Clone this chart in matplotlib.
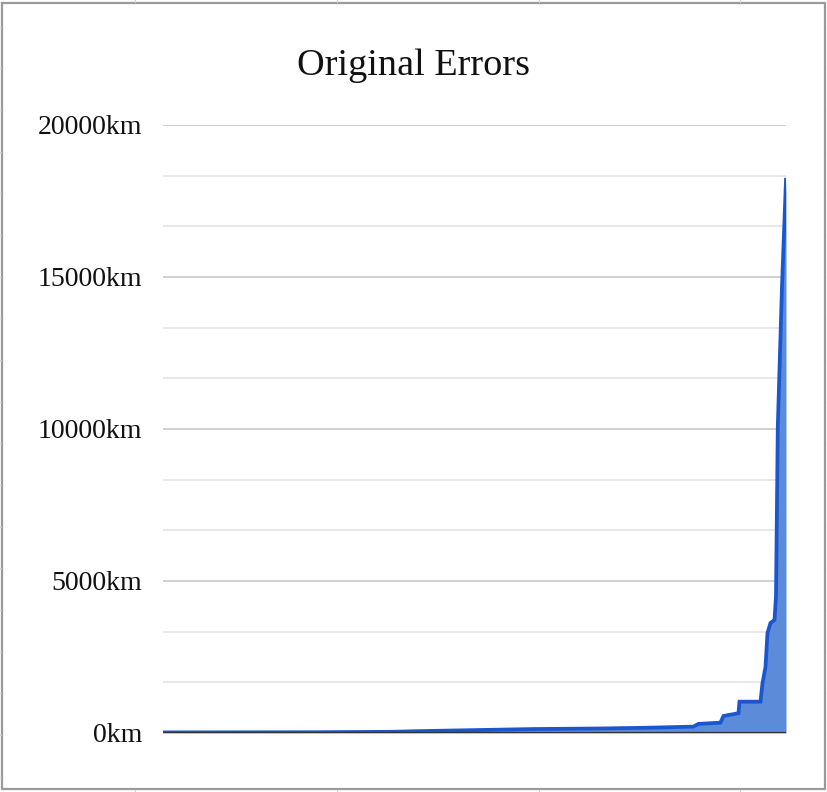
import matplotlib
matplotlib.use("Agg")
import matplotlib.pyplot as plt
from matplotlib.lines import Line2D
from matplotlib.ticker import FixedLocator, FuncFormatter

# ---- data ----
rank = [0, 150, 230, 254, 320, 370, 440, 487, 530, 535, 557, 560, 575, 576,
        597, 599, 602, 604, 607, 611, 612.5, 614.3, 618.5, 622.5]
error_km = [20, 25, 40, 60, 100, 130, 150, 175, 210, 300, 340, 560, 650, 1030,
            1030, 1640, 2170, 3290, 3620, 3720, 4500, 10080, 14700, 18200]
title = "Original Errors"
major_ticks = [0, 5000, 10000, 15000, 20000]
minor_ticks = [1666.67, 3333.33, 6666.67, 8333.33, 11666.67, 13333.33,
               16666.67, 18333.33]

W, H = 828, 792
fig = plt.figure(figsize=(W / 100, H / 100), dpi=100)
fig.patch.set_facecolor("white")

def fx(px):
    return px / W

def fy(py):
    return 1 - py / H

ax = fig.add_axes([fx(163), fy(733), fx(786) - fx(163), fy(125) - fy(733)])
ax.set_xlim(0, rank[-1])
ax.set_ylim(0, 20000)

for v in minor_ticks:
    ax.axhline(v, color="#e4e4e4", lw=1.2, zorder=1)
for v in major_ticks[1:]:
    ax.axhline(v, color="#cdcdcd", lw=1.3, zorder=1)

ax.fill_between(rank, error_km, 0, color="#5b8bd9", lw=0, zorder=2)
ax.plot(rank, error_km, color="#1a57cf", lw=2.7, solid_joinstyle="miter", zorder=3)
ax.axhline(0, color="#333333", lw=1.6, zorder=4)

for s in ax.spines.values():
    s.set_visible(False)
ax.set_xticks([])
ax.yaxis.set_major_locator(FixedLocator(major_ticks))
ax.yaxis.set_major_formatter(FuncFormatter(lambda v, p: f"{int(v)}km"))
ax.tick_params(axis="y", length=0, pad=15, labelsize=20)
for lab in ax.get_yticklabels():
    lab.set_fontfamily("Liberation Serif")
    lab.set_color("#111111")
ax.set_facecolor("white")

fig.text(0.5, fy(75), title, ha="center", va="baseline",
         fontsize=27.5, family="Liberation Serif", color="#111111")

# outer frame of the chart object
border = "#9a9a9a"
frame_x = [2, 825.5, 825.5, 2, 2]
frame_y = [3, 3, 788.5, 788.5, 3]
fig.add_artist(Line2D([fx(x) for x in frame_x], [fy(y) for y in frame_y],
                      color=border, lw=1.6, transform=fig.transFigure))
# spreadsheet cell grid stubs peeking around the frame
for cx in [135, 337, 539, 740]:
    fig.add_artist(Line2D([fx(cx), fx(cx)], [fy(0), fy(2)], color="#d0d0d0", lw=0.8,
                          transform=fig.transFigure))
    fig.add_artist(Line2D([fx(cx), fx(cx)], [fy(790), fy(792)], color="#d0d0d0", lw=0.8,
                          transform=fig.transFigure))
ry = 26.7
while ry < 790:
    fig.add_artist(Line2D([fx(0), fx(1)], [fy(ry), fy(ry)], color="#d0d0d0", lw=0.8,
                          transform=fig.transFigure))
    fig.add_artist(Line2D([fx(827), fx(828)], [fy(ry), fy(ry)], color="#d0d0d0", lw=0.8,
                          transform=fig.transFigure))
    ry += 41.67

fig.savefig("out.png", dpi=100, facecolor="white")
